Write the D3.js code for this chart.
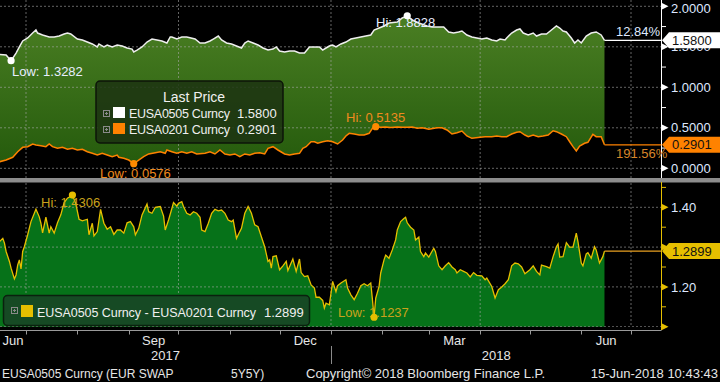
<!DOCTYPE html>
<html>
<head>
<meta charset="utf-8">
<script src="https://cdn.jsdelivr.net/npm/d3@7"></script>
<style>
  body { margin: 0; background: #000; }
  svg { display: block; font-family: "Liberation Sans", Arial, sans-serif; }
</style>
</head>
<body>
<div id="chart"></div>
<script>
// EUSA0505 (5y5y) - white line, top panel
var eusa0505 = [
  ["2017-06-15",1.407],["2017-06-19",1.399],["2017-06-22",1.3282],["2017-06-25",1.423],["2017-06-27",1.498],
  ["2017-06-29",1.572],["2017-07-02",1.609],["2017-07-05",1.670],["2017-07-07",1.707],["2017-07-08",1.670],
  ["2017-07-11",1.646],["2017-07-15",1.621],["2017-07-18",1.621],["2017-07-21",1.633],["2017-07-24",1.658],
  ["2017-07-26",1.670],["2017-07-28",1.658],["2017-08-01",1.596],["2017-08-04",1.584],["2017-08-07",1.559],
  ["2017-08-10",1.535],["2017-08-13",1.498],["2017-08-14",1.535],["2017-08-17",1.498],["2017-08-19",1.522],
  ["2017-08-22",1.498],["2017-08-25",1.522],["2017-08-28",1.510],["2017-08-31",1.485],["2017-09-03",1.472],
  ["2017-09-04",1.436],["2017-09-06",1.460],["2017-09-09",1.498],["2017-09-12",1.559],["2017-09-15",1.596],
  ["2017-09-18",1.584],["2017-09-21",1.572],["2017-09-24",1.547],["2017-09-26",1.621],["2017-09-27",1.621],
  ["2017-09-30",1.596],["2017-10-03",1.621],["2017-10-06",1.621],["2017-10-11",1.596],["2017-10-14",1.547],
  ["2017-10-17",1.547],["2017-10-20",1.572],["2017-10-22",1.596],["2017-10-25",1.633],["2017-10-27",1.584],
  ["2017-10-30",1.547],["2017-11-02",1.535],["2017-11-05",1.510],["2017-11-08",1.485],["2017-11-10",1.547],
  ["2017-11-12",1.572],["2017-11-15",1.547],["2017-11-18",1.522],["2017-11-21",1.485],["2017-11-24",1.460],
  ["2017-11-27",1.472],["2017-11-29",1.498],["2017-12-01",1.448],["2017-12-04",1.436],["2017-12-07",1.448],
  ["2017-12-10",1.448],["2017-12-13",1.423],["2017-12-16",1.423],["2017-12-19",1.498],["2017-12-22",1.498],
  ["2017-12-25",1.498],["2017-12-27",1.460],["2017-12-29",1.485],["2017-12-31",1.510],["2018-01-02",1.522],
  ["2018-01-04",1.498],["2018-01-07",1.535],["2018-01-10",1.559],["2018-01-13",1.596],["2018-01-16",1.609],
  ["2018-01-19",1.621],["2018-01-22",1.633],["2018-01-25",1.646],["2018-01-27",1.707],["2018-01-30",1.732],
  ["2018-02-02",1.757],["2018-02-05",1.794],["2018-02-10",1.806],["2018-02-13",1.856],["2018-02-16",1.8828],
  ["2018-02-19",1.831],["2018-02-23",1.794],["2018-02-28",1.757],["2018-03-03",1.744],["2018-03-07",1.744],
  ["2018-03-10",1.744],["2018-03-13",1.683],["2018-03-16",1.670],["2018-03-19",1.683],["2018-03-21",1.695],
  ["2018-03-24",1.646],["2018-03-27",1.621],["2018-03-30",1.609],["2018-04-02",1.596],["2018-04-05",1.609],
  ["2018-04-08",1.584],["2018-04-11",1.572],["2018-04-13",1.596],["2018-04-16",1.584],["2018-04-17",1.609],
  ["2018-04-20",1.670],["2018-04-23",1.707],["2018-04-25",1.720],["2018-04-27",1.670],["2018-04-30",1.646],
  ["2018-05-03",1.670],["2018-05-05",1.633],["2018-05-08",1.658],["2018-05-11",1.658],["2018-05-14",1.707],
  ["2018-05-17",1.757],["2018-05-19",1.732],["2018-05-21",1.695],["2018-05-23",1.683],["2018-05-26",1.609],
  ["2018-05-28",1.547],["2018-05-30",1.584],["2018-06-01",1.547],["2018-06-04",1.633],["2018-06-07",1.670],
  ["2018-06-10",1.683],["2018-06-13",1.646],["2018-06-15",1.5800]
];

// EUSA0201 (1y2y) - orange line, top panel
var eusa0201 = [
  ["2017-06-15",0.081],["2017-06-19",0.102],["2017-06-23",0.136],["2017-06-26",0.205],["2017-06-29",0.259],
  ["2017-07-02",0.267],["2017-07-05",0.300],["2017-07-07",0.288],["2017-07-10",0.279],["2017-07-13",0.267],
  ["2017-07-15",0.300],["2017-07-17",0.267],["2017-07-20",0.247],["2017-07-23",0.259],["2017-07-26",0.235],
  ["2017-07-29",0.247],["2017-08-01",0.226],["2017-08-04",0.235],["2017-08-07",0.205],["2017-08-10",0.185],
  ["2017-08-13",0.164],["2017-08-16",0.185],["2017-08-19",0.164],["2017-08-22",0.143],["2017-08-25",0.164],
  ["2017-08-26",0.136],["2017-08-29",0.123],["2017-09-01",0.102],["2017-09-04",0.0576],["2017-09-07",0.102],
  ["2017-09-10",0.143],["2017-09-13",0.177],["2017-09-17",0.193],["2017-09-20",0.205],["2017-09-23",0.185],
  ["2017-09-24",0.226],["2017-09-27",0.205],["2017-09-30",0.185],["2017-10-03",0.205],["2017-10-06",0.185],
  ["2017-10-09",0.205],["2017-10-12",0.177],["2017-10-17",0.185],["2017-10-20",0.205],["2017-10-23",0.177],
  ["2017-10-26",0.226],["2017-10-29",0.177],["2017-11-01",0.164],["2017-11-04",0.177],["2017-11-07",0.143],
  ["2017-11-10",0.177],["2017-11-13",0.164],["2017-11-16",0.185],["2017-11-19",0.193],["2017-11-22",0.177],
  ["2017-11-24",0.247],["2017-11-27",0.267],["2017-11-30",0.226],["2017-12-04",0.177],["2017-12-07",0.164],
  ["2017-12-10",0.177],["2017-12-13",0.185],["2017-12-15",0.247],["2017-12-17",0.267],["2017-12-20",0.328],
  ["2017-12-22",0.328],["2017-12-24",0.309],["2017-12-27",0.328],["2017-12-30",0.341],["2018-01-02",0.328],
  ["2018-01-05",0.300],["2018-01-08",0.349],["2018-01-10",0.399],["2018-01-12",0.432],["2018-01-15",0.423],
  ["2018-01-18",0.411],["2018-01-21",0.411],["2018-01-24",0.432],["2018-01-26",0.494],["2018-01-28",0.5135],
  ["2018-01-31",0.506],["2018-02-03",0.510],["2018-02-06",0.503],["2018-02-10",0.511],["2018-02-13",0.506],
  ["2018-02-16",0.508],["2018-02-19",0.510],["2018-02-22",0.494],["2018-02-25",0.501],["2018-03-01",0.481],
  ["2018-03-06",0.501],["2018-03-09",0.501],["2018-03-12",0.473],["2018-03-15",0.423],["2018-03-18",0.440],
  ["2018-03-21",0.460],["2018-03-24",0.399],["2018-03-27",0.370],["2018-04-01",0.383],["2018-04-04",0.390],
  ["2018-04-08",0.390],["2018-04-11",0.399],["2018-04-14",0.390],["2018-04-17",0.390],["2018-04-20",0.423],
  ["2018-04-23",0.444],["2018-04-25",0.452],["2018-04-28",0.411],["2018-04-30",0.390],["2018-05-03",0.411],
  ["2018-05-06",0.390],["2018-05-09",0.399],["2018-05-12",0.411],["2018-05-15",0.464],["2018-05-17",0.452],
  ["2018-05-20",0.423],["2018-05-23",0.390],["2018-05-25",0.328],["2018-05-27",0.267],["2018-05-29",0.214],
  ["2018-05-31",0.275],["2018-06-03",0.309],["2018-06-05",0.321],["2018-06-08",0.420],["2018-06-10",0.390],
  ["2018-06-13",0.390],["2018-06-15",0.2901]
];

// EUSA0505 - EUSA0201, bottom panel
var spread = [
  ["2017-06-15",1.314],["2017-06-17",1.322],["2017-06-18",1.310],["2017-06-19",1.289],["2017-06-21",1.264],
  ["2017-06-22",1.247],["2017-06-24",1.220],["2017-06-25",1.230],["2017-06-26",1.255],["2017-06-27",1.268],
  ["2017-06-28",1.245],["2017-06-29",1.289],["2017-06-30",1.301],["2017-07-02",1.331],["2017-07-04",1.364],
  ["2017-07-07",1.395],["2017-07-09",1.376],["2017-07-10",1.360],["2017-07-11",1.336],["2017-07-13",1.375],
  ["2017-07-15",1.335],["2017-07-16",1.351],["2017-07-18",1.335],["2017-07-20",1.361],["2017-07-22",1.381],
  ["2017-07-24",1.412],["2017-07-26",1.423],["2017-07-29",1.4306],["2017-07-31",1.410],["2017-08-02",1.370],
  ["2017-08-04",1.366],["2017-08-07",1.370],["2017-08-08",1.331],["2017-08-10",1.360],["2017-08-11",1.328],
  ["2017-08-13",1.339],["2017-08-15",1.395],["2017-08-17",1.360],["2017-08-19",1.345],["2017-08-21",1.351],
  ["2017-08-23",1.332],["2017-08-25",1.343],["2017-08-27",1.343],["2017-08-29",1.335],["2017-08-31",1.361],
  ["2017-09-02",1.364],["2017-09-04",1.351],["2017-09-05",1.331],["2017-09-07",1.347],["2017-09-09",1.381],
  ["2017-09-12",1.408],["2017-09-13",1.389],["2017-09-15",1.385],["2017-09-17",1.400],["2017-09-20",1.402],
  ["2017-09-22",1.378],["2017-09-23",1.343],["2017-09-25",1.368],["2017-09-27",1.397],["2017-09-28",1.412],
  ["2017-09-30",1.403],["2017-10-01",1.410],["2017-10-03",1.414],["2017-10-04",1.402],["2017-10-06",1.385],
  ["2017-10-08",1.381],["2017-10-10",1.389],["2017-10-12",1.385],["2017-10-14",1.375],["2017-10-15",1.343],
  ["2017-10-17",1.339],["2017-10-19",1.360],["2017-10-21",1.385],["2017-10-23",1.395],["2017-10-25",1.391],
  ["2017-10-27",1.393],["2017-10-29",1.385],["2017-10-31",1.368],["2017-11-02",1.364],["2017-11-03",1.368],
  ["2017-11-05",1.322],["2017-11-07",1.339],["2017-11-08",1.347],["2017-11-10",1.385],["2017-11-12",1.402],
  ["2017-11-14",1.385],["2017-11-16",1.356],["2017-11-18",1.351],["2017-11-20",1.326],["2017-11-22",1.301],
  ["2017-11-24",1.264],["2017-11-25",1.268],["2017-11-26",1.247],["2017-11-27",1.276],["2017-11-29",1.278],
  ["2017-12-01",1.243],["2017-12-03",1.253],["2017-12-05",1.264],["2017-12-06",1.241],["2017-12-09",1.270],
  ["2017-12-11",1.239],["2017-12-13",1.270],["2017-12-14",1.236],["2017-12-16",1.226],["2017-12-18",1.228],
  ["2017-12-20",1.205],["2017-12-22",1.197],["2017-12-23",1.174],["2017-12-25",1.174],["2017-12-27",1.166],
  ["2017-12-28",1.147],["2017-12-29",1.159],["2017-12-31",1.155],["2018-01-01",1.184],["2018-01-02",1.214],
  ["2018-01-04",1.188],["2018-01-05",1.203],["2018-01-07",1.210],["2018-01-10",1.218],["2018-01-11",1.197],
  ["2018-01-13",1.180],["2018-01-15",1.168],["2018-01-17",1.184],["2018-01-19",1.203],["2018-01-21",1.208],
  ["2018-01-23",1.203],["2018-01-25",1.210],["2018-01-26",1.168],["2018-01-27",1.1237],["2018-01-28",1.172],
  ["2018-01-30",1.201],["2018-01-31",1.235],["2018-02-02",1.268],["2018-02-03",1.280],["2018-02-05",1.272],
  ["2018-02-07",1.293],["2018-02-09",1.318],["2018-02-10",1.343],["2018-02-12",1.364],["2018-02-14",1.372],
  ["2018-02-15",1.375],["2018-02-16",1.361],["2018-02-18",1.350],["2018-02-20",1.343],["2018-02-21",1.318],
  ["2018-02-23",1.325],["2018-02-24",1.289],["2018-02-26",1.276],["2018-02-27",1.285],["2018-03-01",1.275],
  ["2018-03-04",1.297],["2018-03-05",1.289],["2018-03-07",1.253],["2018-03-09",1.243],["2018-03-11",1.253],
  ["2018-03-13",1.261],["2018-03-15",1.250],["2018-03-17",1.243],["2018-03-18",1.235],["2018-03-20",1.243],
  ["2018-03-22",1.239],["2018-03-24",1.235],["2018-03-26",1.225],["2018-03-28",1.236],["2018-03-30",1.229],
  ["2018-04-02",1.228],["2018-04-04",1.218],["2018-04-05",1.222],["2018-04-08",1.201],["2018-04-10",1.172],
  ["2018-04-12",1.193],["2018-04-14",1.200],["2018-04-16",1.208],["2018-04-18",1.218],["2018-04-20",1.253],
  ["2018-04-22",1.260],["2018-04-24",1.258],["2018-04-26",1.250],["2018-04-28",1.233],["2018-05-01",1.243],
  ["2018-05-03",1.253],["2018-05-05",1.239],["2018-05-07",1.230],["2018-05-08",1.255],["2018-05-11",1.251],
  ["2018-05-13",1.247],["2018-05-15",1.276],["2018-05-17",1.301],["2018-05-18",1.308],["2018-05-19",1.275],
  ["2018-05-21",1.276],["2018-05-23",1.311],["2018-05-25",1.300],["2018-05-27",1.300],["2018-05-29",1.335],
  ["2018-05-30",1.314],["2018-06-01",1.260],["2018-06-02",1.253],["2018-06-04",1.283],["2018-06-05",1.286],
  ["2018-06-07",1.272],["2018-06-09",1.301],["2018-06-10",1.293],["2018-06-12",1.260],["2018-06-14",1.276],
  ["2018-06-15",1.2899]
];

var topTicks = [0, 0.5, 1.0, 1.5, 2.0];
var topMinor = [0.25, 0.75, 1.25, 1.75];
var botTicks = [1.1, 1.2, 1.3, 1.4];
var botLabels = [1.2, 1.4];
var botMinor = [1.15, 1.25, 1.35, 1.45];
var quarterLines = ["2017-07-01", "2017-10-01", "2018-01-01", "2018-04-01", "2018-07-01"];
var monthLabels = [["2017-06-01","Jun"],["2017-09-01","Sep"],["2017-12-01","Dec"],["2018-03-01","Mar"],["2018-06-01","Jun"]];
var yearLabels = [["2017-01-01","2017"],["2018-01-01","2018"]];
var legendTop = [["EUSA0505 Curncy", "1.5800", "#ffffff"], ["EUSA0201 Curncy", "0.2901", "#ff8200"]];
var legendBottom = ["EUSA0505 Curncy - EUSA0201 Curncy", "1.2899"];
var changeLabels = ["12.84%", "191.56%"];
var footer = ["EUSA0505 Curncy (EUR SWAP", "5Y5Y)", "Copyright\u00a9 2018 Bloomberg Finance L.P.", "15-Jun-2018 10:43:43"];

var parse = d3.timeParse("%Y-%m-%d");
function prep(arr) {
  return arr.map(function(d){ return {date: parse(d[0]), value: d[1]}; });
}
var white = prep(eusa0505), orange = prep(eusa0201), spr = prep(spread);

var width = 720, height = 382, plotRight = 661.5;

var svg = d3.select("#chart").append("svg")
    .attr("width", width)
    .attr("height", height);
svg.append("rect").attr("width", width).attr("height", height).attr("fill", "#000");

var x = d3.scaleTime()
    .domain([parse("2017-07-01"), parse("2018-07-01")])
    .range([26, 631]);
var yTop = d3.scaleLinear().domain([0, 2]).range([168.3, 6.3]);
var yBot = d3.scaleLinear().domain([1.1, 1.4]).range([326.7, 207.3]);

var defs = svg.append("defs");
defs.append("clipPath").attr("id", "clipTop")
  .append("rect").attr("x", 0).attr("y", 0).attr("width", plotRight).attr("height", 178);
defs.append("clipPath").attr("id", "clipBot")
  .append("rect").attr("x", 0).attr("y", 183).attr("width", plotRight).attr("height", 144);
var grad = defs.append("linearGradient").attr("id", "topGrad")
    .attr("gradientUnits", "userSpaceOnUse")
    .attr("x1", 0).attr("x2", 0).attr("y1", 10).attr("y2", 168);
grad.append("stop").attr("offset", "0%").attr("stop-color", "#4c8024");
grad.append("stop").attr("offset", "100%").attr("stop-color", "#245a0c");

//---- top panel
var topG = svg.append("g").attr("clip-path", "url(#clipTop)");
var line = d3.line()
    .x(function(d){ return x(d.date); })
    .y(function(d){ return yTop(d.value); });

// band between the two series
topG.append("path")
    .attr("d", line(white.concat(orange.slice().reverse())) + "Z")
    .attr("fill", "url(#topGrad)");

// grid
topG.selectAll(".hgrid").data(topTicks).enter().append("line")
    .attr("x1", 0).attr("x2", plotRight)
    .attr("y1", function(d){ return yTop(d); }).attr("y2", function(d){ return yTop(d); })
    .attr("stroke", "#a8a8a8").attr("stroke-opacity", 0.6).attr("stroke-dasharray", "2,2");
topG.selectAll(".vgrid").data(quarterLines).enter().append("line")
    .attr("x1", function(d){ return x(parse(d)); }).attr("x2", function(d){ return x(parse(d)); })
    .attr("y1", 0).attr("y2", 178)
    .attr("stroke", "#a8a8a8").attr("stroke-opacity", 0.6).attr("stroke-dasharray", "2,2");

topG.append("path").datum(orange).attr("d", line)
    .attr("fill", "none").attr("stroke", "#ff8200").attr("stroke-width", 1.5);
topG.append("path").datum(white).attr("d", line)
    .attr("fill", "none").attr("stroke", "#eeeeee").attr("stroke-width", 1.5);

//---- bottom panel
var botG = svg.append("g").attr("clip-path", "url(#clipBot)");
var area = d3.area()
    .x(function(d){ return x(d.date); })
    .y0(yBot(1.1))
    .y1(function(d){ return yBot(d.value); });
botG.append("path").datum(spr).attr("d", area).attr("fill", "#067219");

botG.selectAll(".hgrid").data(botTicks).enter().append("line")
    .attr("x1", 0).attr("x2", plotRight)
    .attr("y1", function(d){ return yBot(d); }).attr("y2", function(d){ return yBot(d); })
    .attr("stroke", "#a8a8a8").attr("stroke-opacity", 0.6).attr("stroke-dasharray", "2,2");
botG.selectAll(".vgrid").data(quarterLines).enter().append("line")
    .attr("x1", function(d){ return x(parse(d)); }).attr("x2", function(d){ return x(parse(d)); })
    .attr("y1", 183).attr("y2", 328)
    .attr("stroke", "#a8a8a8").attr("stroke-opacity", 0.6).attr("stroke-dasharray", "2,2");

botG.append("path").datum(spr)
    .attr("d", d3.line().x(function(d){ return x(d.date); }).y(function(d){ return yBot(d.value); }))
    .attr("fill", "none").attr("stroke", "#e6bf00").attr("stroke-width", 1.3);

// separator between panels
svg.append("rect").attr("x", 0).attr("y", 178).attr("width", width).attr("height", 4.5).attr("fill", "#8c8c8c");

//---- hi / low markers
function extreme(arr, fn) { return arr.reduce(function(a, b){ return fn(b.value, a.value) ? b : a; }); }
var lt = function(a, b){ return a < b; }, gt = function(a, b){ return a > b; };
var wLo = extreme(white, lt), wHi = extreme(white, gt);
var oLo = extreme(orange, lt), oHi = extreme(orange, gt);
var sLo = extreme(spr, lt), sHi = extreme(spr, gt);
var f4 = d3.format(".4f");

function marker(pt, yScale, label, dotColor, textColor, tx, ty) {
  svg.append("text").attr("x", tx).attr("y", ty).attr("fill", textColor)
    .style("font-size", "13px").text(label + f4(pt.value));
  svg.append("circle").attr("cx", x(pt.date)).attr("cy", yScale(pt.value)).attr("r", 3.6).attr("fill", dotColor);
}
marker(wLo, yTop, "Low: ", "#ffffff", "#e8eeff", 12, 76);
marker(wHi, yTop, "Hi: ", "#ffffff", "#e8eeff", 376, 26.5);
marker(oHi, yTop, "Hi: ", "#ff8a00", "#f08a1e", 346, 121.5);
marker(oLo, yTop, "Low: ", "#ff8a00", "#f08a1e", 100, 177.5);
marker(sHi, yBot, "Hi: ", "#e6bf00", "#c9a21c", 41, 206.5);
marker(sLo, yBot, "Low: ", "#e6bf00", "#c9a21c", 338, 316.5);

//---- legends
function plusBox(g, bx, by) {
  g.append("rect").attr("x", bx + 0.5).attr("y", by + 0.5).attr("width", 6).attr("height", 6)
    .attr("fill", "none").attr("stroke", "#8a8a8a");
  g.append("path").attr("d", "M" + (bx + 2) + "," + (by + 3.5) + "h3M" + (bx + 3.5) + "," + (by + 2) + "v3")
    .attr("stroke", "#8a8a8a");
}
var lg = svg.append("g");
lg.append("rect").attr("x", 96).attr("y", 81).attr("width", 187).attr("height", 62).attr("rx", 4)
  .attr("fill", "#1c3212").attr("fill-opacity", 0.85).attr("stroke", "#0c1408").attr("stroke-width", 1.5);
lg.append("text").attr("x", 194).attr("y", 102).attr("text-anchor", "middle")
  .attr("fill", "#f0f0f0").style("font-size", "14px").text("Last Price");
legendTop.forEach(function(d, i) {
  var yy = 112 + i * 16;
  plusBox(lg, 103, yy - 2);
  lg.append("rect").attr("x", 113).attr("y", yy - 5).attr("width", 12).attr("height", 11).attr("fill", d[2]);
  lg.append("text").attr("x", 129).attr("y", yy + 5.5).attr("fill", "#f0f0f0").style("font-size", "12.5px")
    .attr("textLength", 101).attr("lengthAdjust", "spacing").text(d[0]);
  lg.append("text").attr("x", 237).attr("y", yy + 5.5).attr("fill", "#f0f0f0")
    .style("font-size", "13px").text(d[1]);
});

var lb = svg.append("g");
lb.append("rect").attr("x", 3.5).attr("y", 295.5).attr("width", 306).attr("height", 30).attr("rx", 4)
  .attr("fill", "#164a24").attr("stroke", "#0a200e").attr("stroke-width", 1.5);
plusBox(lb, 11, 307);
lb.append("rect").attr("x", 21).attr("y", 305).attr("width", 12).attr("height", 12).attr("fill", "#e6bf00");
lb.append("text").attr("x", 37).attr("y", 316.5).attr("fill", "#f0f0f0").style("font-size", "12.5px")
  .attr("textLength", 219).attr("lengthAdjust", "spacing").text(legendBottom[0]);
lb.append("text").attr("x", 264).attr("y", 316.5).attr("fill", "#f0f0f0")
  .style("font-size", "13px").text(legendBottom[1]);

//---- right axes
var ax = svg.append("g");
ax.append("line").attr("x1", plotRight).attr("x2", plotRight).attr("y1", 0).attr("y2", 178)
  .attr("stroke", "#ffffff");
ax.selectAll(".tmin").data(topMinor).enter().append("line")
  .attr("x1", plotRight).attr("x2", plotRight + 4.5)
  .attr("y1", function(d){ return yTop(d); }).attr("y2", function(d){ return yTop(d); })
  .attr("stroke", "#ffffff");
ax.selectAll(".tmaj").data(topTicks).enter().append("path")
  .attr("d", function(d){ var yy = yTop(d); return "M" + plotRight + "," + (yy - 3.5) + "L" + (plotRight + 7) + "," + yy + "L" + plotRight + "," + (yy + 3.5) + "Z"; })
  .attr("fill", "#ffffff");
ax.selectAll(".tlab").data(topTicks).enter().append("text")
  .attr("x", 671).attr("y", function(d){ return Math.max(yTop(d), 8.7) + 4.6; })
  .attr("fill", "#dfe8ff").style("font-size", "13px")
  .text(function(d){ return f4(d); });

ax.append("line").attr("x1", plotRight).attr("x2", plotRight).attr("y1", 182).attr("y2", 330)
  .attr("stroke", "#e6bf00");
ax.selectAll(".bmin").data(botMinor).enter().append("line")
  .attr("x1", plotRight).attr("x2", plotRight + 4.5)
  .attr("y1", function(d){ return yBot(d); }).attr("y2", function(d){ return yBot(d); })
  .attr("stroke", "#e6bf00");
ax.selectAll(".bmaj").data(botTicks).enter().append("path")
  .attr("d", function(d){ var yy = yBot(d); return "M" + plotRight + "," + (yy - 3.5) + "L" + (plotRight + 7) + "," + yy + "L" + plotRight + "," + (yy + 3.5) + "Z"; })
  .attr("fill", "#e6bf00");
ax.selectAll(".blab").data(botLabels).enter().append("text")
  .attr("x", 671).attr("y", function(d){ return yBot(d) + 4.6; })
  .attr("fill", "#dfe8ff").style("font-size", "13px")
  .text(function(d){ return d3.format(".2f")(d); });

//---- last value tags
function lastTag(series, yScale, color, lineColor) {
  var last = series[series.length - 1], yy = yScale(last.value);
  svg.append("line").attr("x1", x(last.date)).attr("x2", plotRight).attr("y1", yy).attr("y2", yy)
    .attr("stroke", lineColor).attr("stroke-width", 1.2);
  svg.append("path")
    .attr("d", "M662," + yy + "L669," + (yy - 8) + "L720," + (yy - 8) + "L720," + (yy + 8) + "L669," + (yy + 8) + "Z")
    .attr("fill", color);
  svg.append("text").attr("x", 672).attr("y", yy + 4.6).attr("fill", "#111")
    .style("font-size", "13px").text(f4(last.value));
  return yy;
}
var yW = lastTag(white, yTop, "#ffffff", "#ffffff");
var yO = lastTag(orange, yTop, "#ff8200", "#ff8200");
lastTag(spr, yBot, "#e6bf00", "#e8a020");

svg.append("text").attr("x", 616).attr("y", yW - 4).attr("fill", "#dfe8ff").style("font-size", "13px")
  .text(changeLabels[0]);
svg.append("text").attr("x", 616).attr("y", yO + 13).attr("fill", "#d8862a").style("font-size", "13px")
  .text(changeLabels[1]);

//---- x axis
var xa = svg.append("g");
xa.append("line").attr("x1", 0).attr("x2", plotRight).attr("y1", 330.5).attr("y2", 330.5).attr("stroke", "#9a9a9a");
xa.selectAll(".mt").data(d3.timeMonth.range(parse("2017-07-01"), parse("2018-07-02"))).enter().append("line")
  .attr("x1", function(d){ return Math.round(x(d)) + 0.5; }).attr("x2", function(d){ return Math.round(x(d)) + 0.5; })
  .attr("y1", 330).attr("y2", 334.5).attr("stroke", "#9a9a9a");
xa.selectAll(".ml").data(monthLabels).enter().append("text")
  .attr("x", function(d){
    var s = parse(d[0]), e = d3.timeMonth.offset(s, 1);
    return (Math.max(0, x(s)) + x(e)) / 2;
  })
  .attr("y", 345).attr("text-anchor", "middle").attr("fill", "#e6e6e6").style("font-size", "13px")
  .text(function(d){ return d[1]; });
xa.selectAll(".yl").data(yearLabels).enter().append("text")
  .attr("x", function(d){
    var s = parse(d[0]), e = d3.timeYear.offset(s, 1);
    return (Math.max(0, x(s)) + Math.min(plotRight, x(e))) / 2;
  })
  .attr("y", 360).attr("text-anchor", "middle").attr("fill", "#e6e6e6").style("font-size", "13px")
  .text(function(d){ return d[1]; });
xa.append("line").attr("x1", Math.round(x(parse("2018-01-01"))) + 0.5).attr("x2", Math.round(x(parse("2018-01-01"))) + 0.5)
  .attr("y1", 346).attr("y2", 364).attr("stroke", "#8a8a8a");

//---- footer
var ft = svg.append("g").attr("fill", "#e6e6e6");
ft.append("text").attr("x", 2).attr("y", 378).style("font-size", "12px").text(footer[0]);
ft.append("text").attr("x", 231).attr("y", 378).style("font-size", "12px").text(footer[1]);
ft.append("text").attr("x", 306).attr("y", 378).style("font-size", "13px").text(footer[2]);
ft.append("text").attr("x", 718).attr("y", 378).attr("text-anchor", "end").style("font-size", "13px").text(footer[3]);
</script>
</body>
</html>
